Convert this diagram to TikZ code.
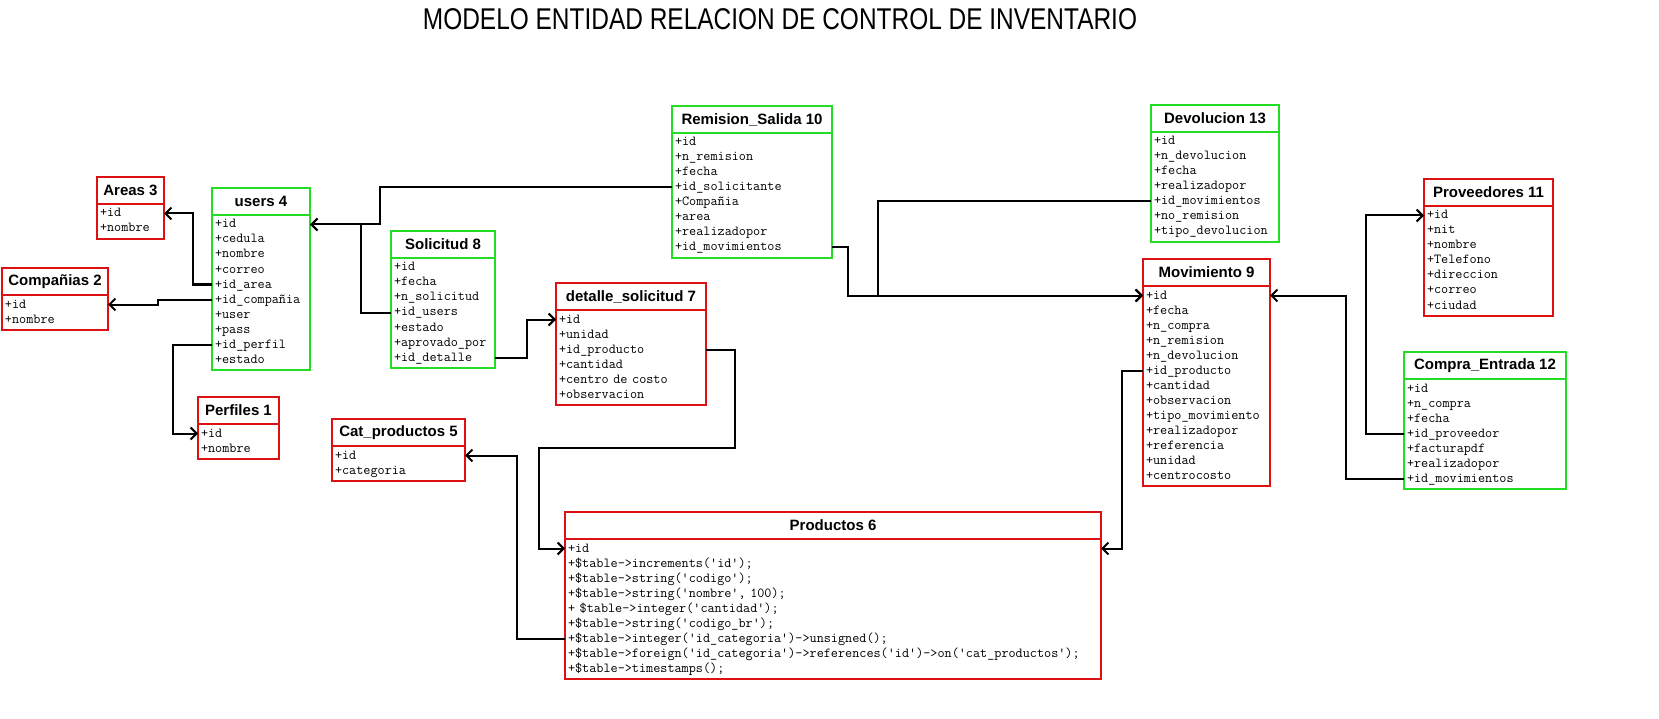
\documentclass[tikz,border=0pt]{standalone}
\usepackage{fontspec}
\usepackage{graphicx}
\setmainfont{Liberation Sans}
\newfontfamily\campofont[Ligatures=TeXOff]{Latin Modern Mono}
\usetikzlibrary{calc,arrows.meta}
\definecolor{rojo}{RGB}{221,17,17}
\definecolor{verde}{RGB}{34,221,34}
\tikzset{
	cabecera/.style={rectangle, line width=2pt, minimum height=27pt, inner sep=0pt, outer sep=0pt, anchor=north west, font=\fontsize{15}{18}\selectfont\bfseries},
	fila/.style={rectangle, inner xsep=3pt, inner ysep=0pt, outer sep=0pt, text height=11pt, text depth=4pt, align=left, anchor=north west, font=\campofont\fontsize{13.8}{15}\selectfont},
	fk/.style={line width=2pt, -{Straight Barb[length=6pt,width=12pt]}},
	titulo/.style={inner sep=0pt, font=\fontsize{30}{36}\selectfont}
}
% #1 nombre, #2 esquina, #3 ancho, #4 color, #5 cabecera, #6 campos
\newcommand{\entidad}[6]{%
	\node[cabecera, draw=#4, minimum width=#3pt] (#1) at (#2) {#5};
	\pgfmathsetmacro\anchofila{#3-6}
	\foreach \campo [count=\i] in {#6} {
		\node[fila, text width=\anchofila pt] (#1-\i) at ($(#1.south west)+(0,{2+(\i-1)*15})$) {\campo};
		\xdef\ultima{\i}
	}
	\draw[#4, line width=2pt] (#1.north west) rectangle ($(#1-\ultima.south east)+(0,3)$);
}
\begin{document}
\begin{tikzpicture}[x=1pt, y=-1pt]
	\useasboundingbox (0,0) rectangle (1659,719);
	\node[titulo] (titulo) at (780,19) {\scalebox{0.815}[1]{MODELO ENTIDAD RELACION DE CONTROL DE INVENTARIO}};

	\entidad{areas}{97,177}{67}{rojo}{Areas 3}{+id,+nombre}
	\entidad{users}{212,188}{98}{verde}{users 4}{+id,+cedula,+nombre,+correo,+id\_area,+id\_compañia,+user,+pass,+id\_perfil,+estado}
	\entidad{companias}{2,268}{106}{rojo}{Compañias 2}{+id,+nombre}
	\entidad{perfiles}{198,397}{81}{rojo}{Perfiles 1}{+id,+nombre}
	\entidad{solicitud}{391,231}{104}{verde}{Solicitud 8}{+id,+fecha,+n\_solicitud,+id\_users,+estado,+aprovado\_por,+id\_detalle}
	\entidad{remision}{672,106}{160}{verde}{Remision\_Salida 10}{+id,+n\_remision,+fecha,+id\_solicitante,+Compañia,+area,+realizadopor,+id\_movimientos}
	\entidad{detalle}{556,283}{150}{rojo}{detalle\_solicitud 7}{+id,+unidad,+id\_producto,+cantidad,+centro de costo,+observacion}
	\entidad{catproductos}{332,419}{133}{rojo}{Cat\_productos 5}{+id,+categoria}
	\entidad{productos}{565,512}{536}{rojo}{Productos 6}{+id,
		{+\$table->increments('id');},
		{+\$table->string('codigo');},
		{+\$table->string('nombre', 100);},
		{+ \$table->integer('cantidad');},
		{+\$table->string('codigo\_br');},
		{+\$table->integer('id\_categoria')->unsigned();},
		{+\$table->foreign('id\_categoria')->references('id')->on('cat\_productos');},
		{+\$table->timestamps();}}
	\entidad{devolucion}{1151,105}{128}{verde}{Devolucion 13}{+id,+n\_devolucion,+fecha,+realizadopor,+id\_movimientos,+no\_remision,+tipo\_devolucion}
	\entidad{movimiento}{1143,259}{127}{rojo}{Movimiento 9}{+id,+fecha,+n\_compra,+n\_remision,+n\_devolucion,+id\_producto,+cantidad,+observacion,+tipo\_movimiento,+realizadopor,+referencia,+unidad,+centrocosto}
	\entidad{proveedores}{1424,179}{129}{rojo}{Proveedores 11}{+id,+nit,+nombre,+Telefono,+direccion,+correo,+ciudad}
	\entidad{compra}{1404,352}{162}{verde}{Compra\_Entrada 12}{+id,+n\_compra,+fecha,+id\_proveedor,+facturapdf,+realizadopor,+id\_movimientos}

	% relaciones
	\draw[fk] (users-5.west) -- ++(-19,0) |- (areas-1.east);
	\draw[fk] (users-6.west) -- ++(-54,0) |- (companias-1.east);
	\draw[fk] (users-9.west) -- ++(-39,0) |- (perfiles-1.west);
	\draw[fk] (remision-4.west) -- ++(-292,0) |- (users-1.east);
	\draw[fk] (solicitud-4.west) -- ++(-30,0) |- (users-1.east);
	\draw[fk] (solicitud-7.east) -- ++(32,0) |- (detalle-1.west);
	\draw[fk] (detalle-3.east) -- ++(29,0) |- ($(productos-1.west)+(-26,-101)$) |- (productos-1.west);
	\draw[fk] (productos-7.west) -- ++(-48,0) |- (catproductos-1.east);
	\draw[fk] (movimiento-6.west) -- ++(-21,0) |- (productos-1.east);
	\draw[fk] (remision-8.east) -- ++(16,0) |- (movimiento-1.west);
	\draw[fk] (devolucion-5.west) -- ++(-273,0) |- (movimiento-1.west);
	\draw[fk] (compra-7.west) -- ++(-58,0) |- (movimiento-1.east);
	\draw[fk] (compra-4.west) -- ++(-38,0) |- (proveedores-1.west);
\end{tikzpicture}
\end{document}
